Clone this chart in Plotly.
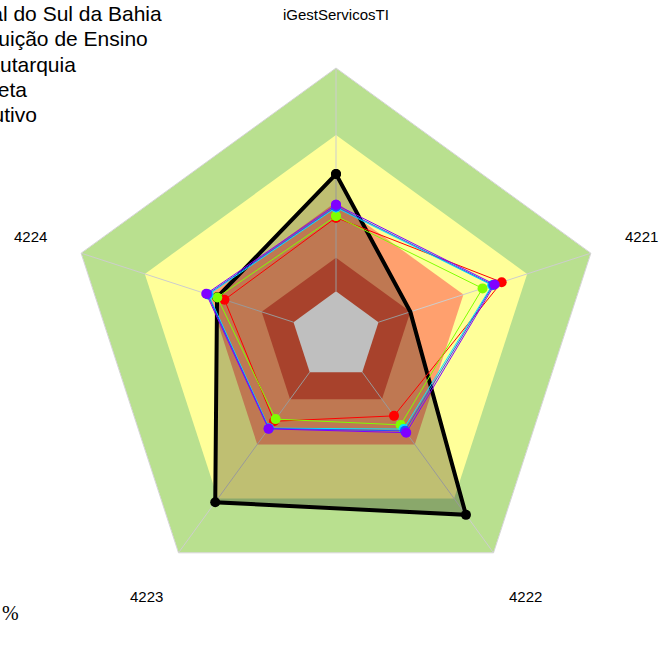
import math
import plotly.graph_objects as go

W, H = 661, 666

# Dimensions evaluated on the radar (clockwise from the top)
categories = ["iGestServicosTI", "4221", "4222", "4223", "4224"]

# Capability bands: upper limit of each band and its colour (outermost first)
band_limits = [1.00, 0.70, 0.40, 0.15, 0.00]
band_colors = ["#B9E08F", "#FFFF99", "#FFA06E", "#E0593B", "#FFFFFF"]

# Organisation profile
org_name = "Universidade Federal do Sul da Bahia"
org_values = [0.525, 0.15, 0.79, 0.72, 0.36]

# Reference averages
red_name = "Instituição de Ensino"
red_values = [0.33, 0.58, 0.242, 0.272, 0.325]
lime_name = "Autarquia"
lime_values = [0.337, 0.49, 0.292, 0.26, 0.359]
cyan_name = "Administração Indireta"
cyan_values = [0.375, 0.535, 0.315, 0.31, 0.40]
blue_name = "Poder Executivo"
blue_values = [0.38, 0.54, 0.325, 0.312, 0.405]
purple_name = "Média Geral"
purple_values = [0.388, 0.547, 0.335, 0.314, 0.411]

legend_labels = [org_name, "Instituição de Ensino", "Autarquia",
                 "Administração Indireta", "Poder Executivo"]

radial_range = [-0.2, 1.0]


def closed(seq):
    return list(seq) + [seq[0]]


fig = go.Figure()

# Concentric capability bands
for limit, color in zip(band_limits, band_colors):
    fig.add_trace(go.Scatterpolar(
        r=closed([limit] * len(categories)), theta=closed(categories),
        mode="lines", fill="toself", fillcolor=color,
        line=dict(width=0, color=color), hoverinfo="skip",
    ))

# Spokes along each dimension
for cat in categories:
    fig.add_trace(go.Scatterpolar(
        r=[0.0, 1.0], theta=[cat, cat], mode="lines",
        line=dict(color="#CDCDCD", width=1), hoverinfo="skip",
    ))

# Organisation profile with translucent fill
fig.add_trace(go.Scatterpolar(
    r=closed(org_values), theta=closed(categories), name=org_name,
    mode="lines+markers", fill="toself", fillcolor="rgba(0,0,0,0.25)",
    line=dict(color="#000000", width=4),
    marker=dict(color="#000000", size=10),
))

series = [
    (red_name, red_values, "#FF0000"),
    (lime_name, lime_values, "#80FF00"),
    (cyan_name, cyan_values, "#00E8FF"),
    (blue_name, blue_values, "#2050FF"),
    (purple_name, purple_values, "#8000FF"),
]
for name, vals, color in series:
    fig.add_trace(go.Scatterpolar(
        r=closed(vals), theta=closed(categories), name=name,
        mode="lines+markers",
        line=dict(color=color, width=1),
        marker=dict(color=color, size=10),
    ))

# Polar area: centre (336, 336) px, outer radius 268 px
cx, cy, R = 336, 336, 268
dom_x = [(cx - R) / W, (cx + R) / W]
dom_y = [(H - cy - R) / H, (H - cy + R) / H]

fig.update_layout(
    width=W, height=H,
    margin=dict(l=0, r=0, t=0, b=0),
    paper_bgcolor="#FFFFFF",
    showlegend=False,
    polar=dict(
        domain=dict(x=dom_x, y=dom_y),
        gridshape="linear",
        bgcolor="rgba(0,0,0,0)",
        radialaxis=dict(range=radial_range, visible=False, showgrid=False),
        angularaxis=dict(
            type="category", categoryarray=categories,
            rotation=90, direction="clockwise",
            showticklabels=False, ticks="", showgrid=False,
            showline=True, linecolor="#D4D4D4", linewidth=1,
        ),
    ),
)

# Dimension labels, set out beyond the outer band along each spoke
label_radius = 1.2 * R
for i, cat in enumerate(categories):
    ang = math.radians(90 - i * 360 / len(categories))
    px = cx + label_radius * math.cos(ang)
    py = cy - label_radius * math.sin(ang)
    fig.add_annotation(
        x=px / W, y=1 - py / H, xref="paper", yref="paper",
        xanchor="center", yanchor="middle", showarrow=False, text=cat,
        font=dict(family="Liberation Sans, Arial, sans-serif", size=15, color="#000000"),
    )

# Legend text (left edge runs past the page)
legend_right = [164, 150, 78, 29, 39]
legend_y = [14, 39, 64, 89, 114]
for text, xr, yc in zip(legend_labels, legend_right, legend_y):
    fig.add_annotation(
        x=xr / W, y=1 - yc / H, xref="paper", yref="paper",
        xanchor="right", yanchor="middle", showarrow=False, text=text,
        font=dict(family="Liberation Sans, Arial, sans-serif", size=21, color="#000000"),
    )

fig.add_annotation(
    x=0 / W, y=1 - 613 / H, xref="paper", yref="paper",
    xanchor="left", yanchor="middle", showarrow=False, text="%",
    font=dict(family="Liberation Serif, Times New Roman, serif", size=20, color="#000000"),
)

fig.write_html("out.html")
